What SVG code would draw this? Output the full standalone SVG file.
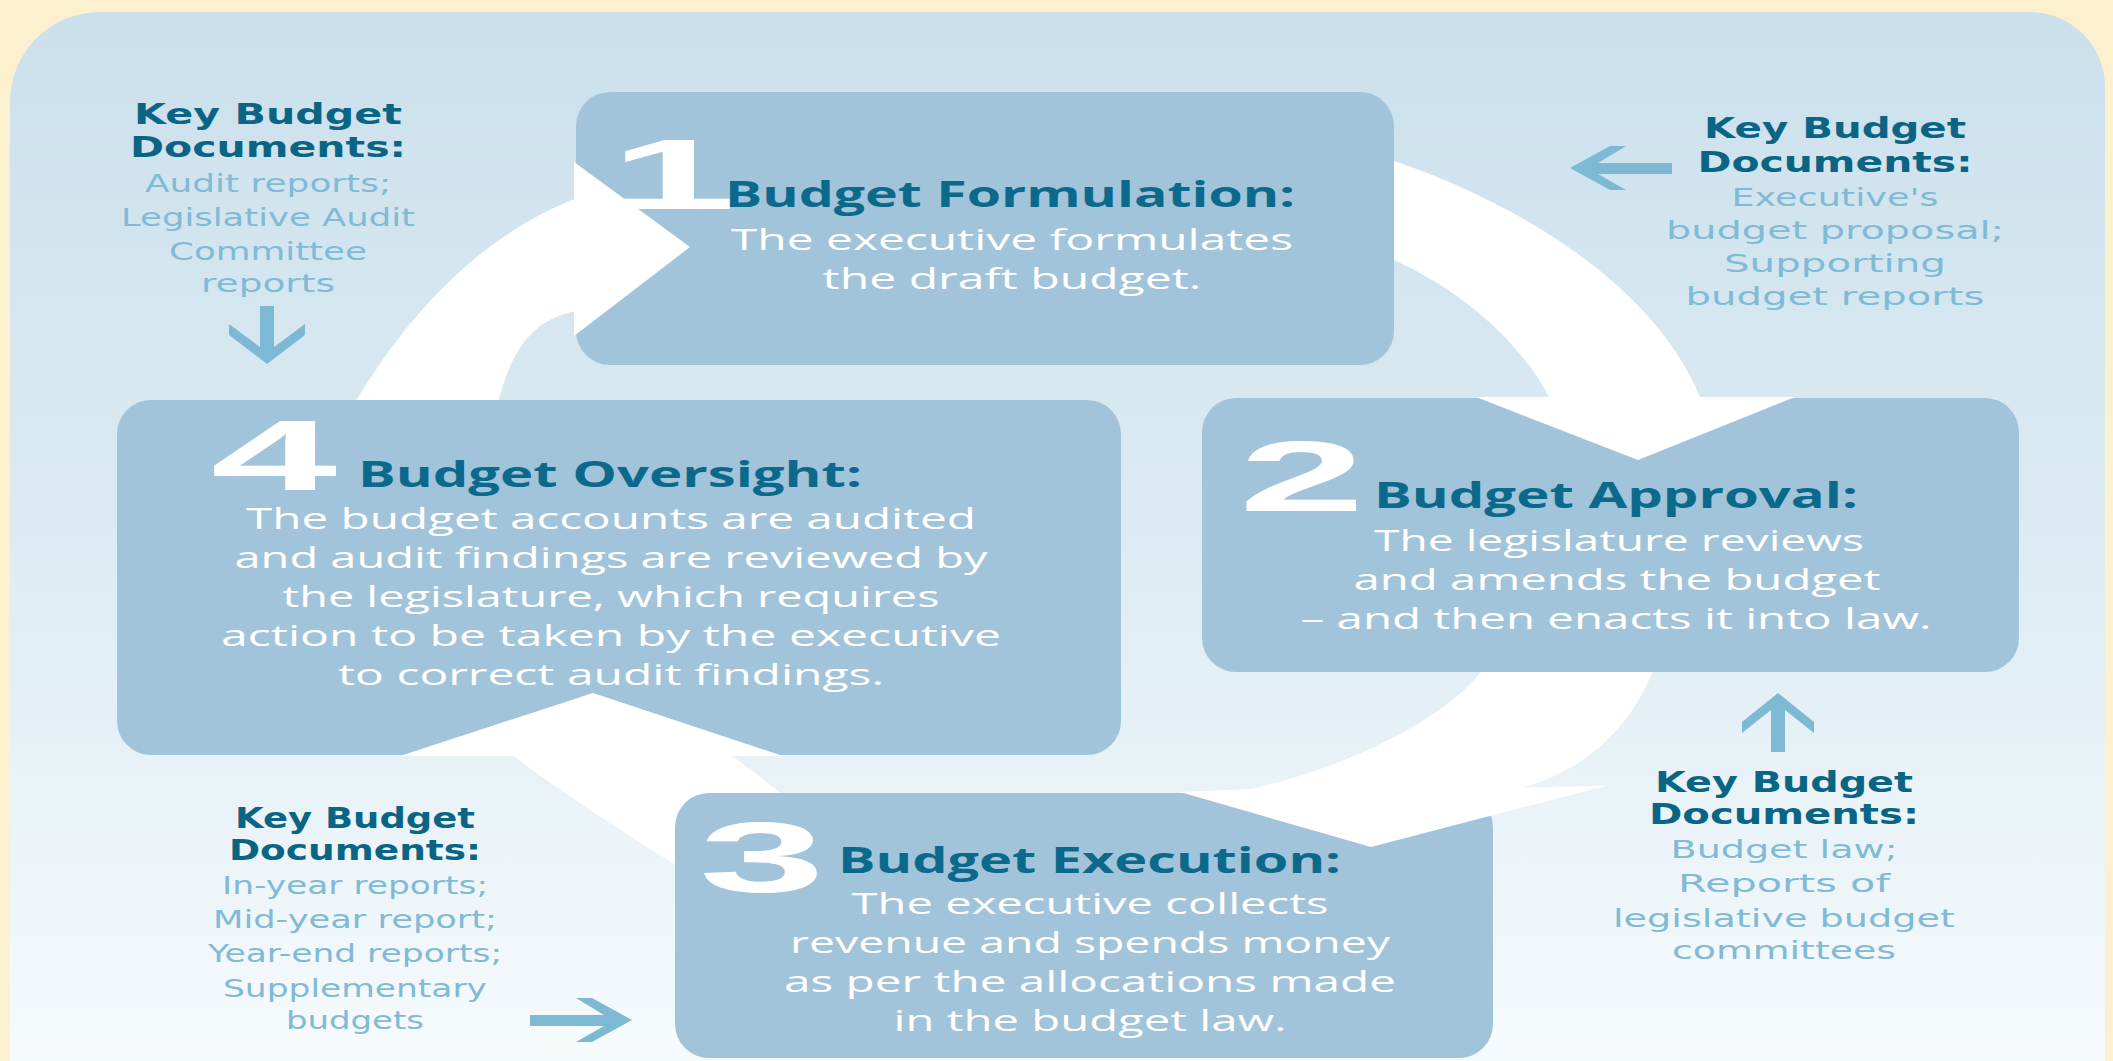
<svg xmlns="http://www.w3.org/2000/svg" width="2113" height="1061" viewBox="0 0 2113 1061">
<style>
.box{fill:#a2c4da}
.ring{fill:#ffffff}
.digit{font-family:"Liberation Sans",Arial,sans-serif;font-weight:700;font-size:101px;fill:#ffffff;text-anchor:middle}
.title{font-family:"Open Sans","Noto Sans",sans-serif;font-weight:700;font-size:35px;fill:#0b6a8b}
.body{font-family:"Open Sans","Noto Sans",sans-serif;font-weight:500;font-size:29px;fill:#ffffff;text-anchor:middle}
.kh{font-family:"DejaVu Sans",Verdana,sans-serif;font-weight:700;font-size:28px;fill:#0a6585;text-anchor:middle}
.kl{font-family:"DejaVu Sans",Verdana,sans-serif;font-size:25px;fill:#80bad5;text-anchor:middle}
.sarrow{fill:#7db8d4}
</style>
<defs>
<linearGradient id="panelGrad" x1="0" y1="0" x2="0" y2="1">
<stop offset="0" stop-color="#cbe0ec"/>
<stop offset="0.5" stop-color="#dcebf3"/>
<stop offset="1" stop-color="#f6fafc"/>
</linearGradient>
</defs>
<rect x="0" y="0" width="2113" height="1061" fill="#fdf0cf"/>
<path d="M10 1061 L10 102 A90 90 0 0 1 100 12 L2030 12 A75 75 0 0 1 2105 87 L2105 1061 Z" fill="url(#panelGrad)"/>

<g id="connectors">
<path class="ring" d="M345 420 C390 340 470 230 600 190 L600 308 C540 312 510 335 492 430 Z"/>
<path class="ring" d="M1385 158 C1500 195 1660 280 1705 410 L1555 410 C1530 350 1465 290 1385 256 Z"/>
<path class="ring" d="M1660 650 C1640 720 1590 770 1520 788 L1605 786 L1371 847 L1180 792 L1250 789 C1340 770 1465 715 1495 650 Z"/>
<path class="ring" d="M495 740 C540 780 620 830 700 880 L800 810 C760 775 730 755 712 740 Z"/>
</g>

<g id="node-1">
<rect class="box" x="576" y="92" width="818" height="273" rx="34"/>
<text class="digit" transform="translate(673 209) scale(2.25 1)">1</text>
<text class="title" x="725" y="207" textLength="570" lengthAdjust="spacingAndGlyphs">Budget Formulation:</text>
<text class="body" x="1012" y="250" textLength="562" lengthAdjust="spacingAndGlyphs">The executive formulates</text>
<text class="body" x="1012" y="289" textLength="379" lengthAdjust="spacingAndGlyphs">the draft budget.</text>
</g>

<g id="node-2">
<rect class="box" x="1202" y="398" width="817" height="274" rx="34"/>
<text class="digit" transform="translate(1302 511) scale(2.25 1)">2</text>
<text class="title" x="1374" y="508" textLength="484" lengthAdjust="spacingAndGlyphs">Budget Approval:</text>
<text class="body" x="1619" y="551" textLength="490" lengthAdjust="spacingAndGlyphs">The legislature reviews</text>
<text class="body" x="1617" y="590" textLength="527" lengthAdjust="spacingAndGlyphs">and amends the budget</text>
<text class="body" x="1616" y="629" textLength="631" lengthAdjust="spacingAndGlyphs">– and then enacts it into law.</text>
</g>

<g id="node-4">
<rect class="box" x="117" y="400" width="1004" height="355" rx="34"/>
<text class="digit" transform="translate(274 490) scale(2.25 1)">4</text>
<text class="title" x="358" y="487" textLength="504" lengthAdjust="spacingAndGlyphs">Budget Oversight:</text>
<text class="body" x="611" y="529" textLength="730" lengthAdjust="spacingAndGlyphs">The budget accounts are audited</text>
<text class="body" x="611" y="568" textLength="753" lengthAdjust="spacingAndGlyphs">and audit findings are reviewed by</text>
<text class="body" x="611" y="607" textLength="657" lengthAdjust="spacingAndGlyphs">the legislature, which requires</text>
<text class="body" x="611" y="646" textLength="780" lengthAdjust="spacingAndGlyphs">action to be taken by the executive</text>
<text class="body" x="611" y="685" textLength="546" lengthAdjust="spacingAndGlyphs">to correct audit findings.</text>
</g>

<g id="node-3">
<rect class="box" x="675" y="793" width="818" height="265" rx="34"/>
<text class="digit" transform="translate(762 892) scale(2.25 1)">3</text>
<text class="title" x="838" y="873" textLength="503" lengthAdjust="spacingAndGlyphs">Budget Execution:</text>
<text class="body" x="1090" y="914" textLength="477" lengthAdjust="spacingAndGlyphs">The executive collects</text>
<text class="body" x="1090" y="953" textLength="600" lengthAdjust="spacingAndGlyphs">revenue and spends money</text>
<text class="body" x="1090" y="992" textLength="612" lengthAdjust="spacingAndGlyphs">as per the allocations made</text>
<text class="body" x="1090" y="1031" textLength="393" lengthAdjust="spacingAndGlyphs">in the budget law.</text>
</g>

<g id="arrowheads">
<polygon class="ring" points="574,162 690,247 574,336"/>
<polygon class="ring" points="1476,397 1638,460 1795,397"/>
<polygon class="ring" points="1180,792 1371,847 1605,786"/>
<polygon class="ring" points="400,756 593,693 783,756"/>
</g>

<g id="docs-top-left">
<text class="kh" x="268" y="124" textLength="268" lengthAdjust="spacingAndGlyphs">Key Budget</text>
<text class="kh" x="268" y="157" textLength="276" lengthAdjust="spacingAndGlyphs">Documents:</text>
<text class="kl" x="268" y="192" textLength="246" lengthAdjust="spacingAndGlyphs">Audit reports;</text>
<text class="kl" x="268" y="226" textLength="294" lengthAdjust="spacingAndGlyphs">Legislative Audit</text>
<text class="kl" x="268" y="260" textLength="198" lengthAdjust="spacingAndGlyphs">Committee</text>
<text class="kl" x="268" y="292" textLength="134" lengthAdjust="spacingAndGlyphs">reports</text>
<polygon class="sarrow" points="267,364 229,335 229,324 260,347 260,306 274,306 274,347 305,324 305,335"/>
</g>

<g id="docs-top-right">
<polygon class="sarrow" points="1570,168 1610,146 1626,146 1598,163 1672,163 1672,174 1598,174 1626,190 1610,190"/>
<text class="kh" x="1835" y="138" textLength="262" lengthAdjust="spacingAndGlyphs">Key Budget</text>
<text class="kh" x="1835" y="172" textLength="275" lengthAdjust="spacingAndGlyphs">Documents:</text>
<text class="kl" x="1835" y="206" textLength="207" lengthAdjust="spacingAndGlyphs">Executive's</text>
<text class="kl" x="1835" y="239" textLength="338" lengthAdjust="spacingAndGlyphs">budget proposal;</text>
<text class="kl" x="1835" y="272" textLength="222" lengthAdjust="spacingAndGlyphs">Supporting</text>
<text class="kl" x="1835" y="305" textLength="299" lengthAdjust="spacingAndGlyphs">budget reports</text>
</g>

<g id="docs-bottom-left">
<text class="kh" x="355" y="828" textLength="240" lengthAdjust="spacingAndGlyphs">Key Budget</text>
<text class="kh" x="355" y="860" textLength="252" lengthAdjust="spacingAndGlyphs">Documents:</text>
<text class="kl" x="355" y="894" textLength="266" lengthAdjust="spacingAndGlyphs">In-year reports;</text>
<text class="kl" x="355" y="928" textLength="284" lengthAdjust="spacingAndGlyphs">Mid-year report;</text>
<text class="kl" x="355" y="962" textLength="294" lengthAdjust="spacingAndGlyphs">Year-end reports;</text>
<text class="kl" x="355" y="997" textLength="264" lengthAdjust="spacingAndGlyphs">Supplementary</text>
<text class="kl" x="355" y="1029" textLength="138" lengthAdjust="spacingAndGlyphs">budgets</text>
<polygon class="sarrow" points="632,1020 592,998 576,998 604,1015 530,1015 530,1026 604,1026 576,1042 592,1042"/>
</g>

<g id="docs-bottom-right">
<polygon class="sarrow" points="1778,693 1742,722 1742,733 1771,710 1771,752 1785,752 1785,710 1814,733 1814,722"/>
<text class="kh" x="1784" y="792" textLength="258" lengthAdjust="spacingAndGlyphs">Key Budget</text>
<text class="kh" x="1784" y="824" textLength="270" lengthAdjust="spacingAndGlyphs">Documents:</text>
<text class="kl" x="1784" y="858" textLength="227" lengthAdjust="spacingAndGlyphs">Budget law;</text>
<text class="kl" x="1784" y="892" textLength="212" lengthAdjust="spacingAndGlyphs">Reports of</text>
<text class="kl" x="1784" y="927" textLength="342" lengthAdjust="spacingAndGlyphs">legislative budget</text>
<text class="kl" x="1784" y="959" textLength="224" lengthAdjust="spacingAndGlyphs">committees</text>
</g>
</svg>
